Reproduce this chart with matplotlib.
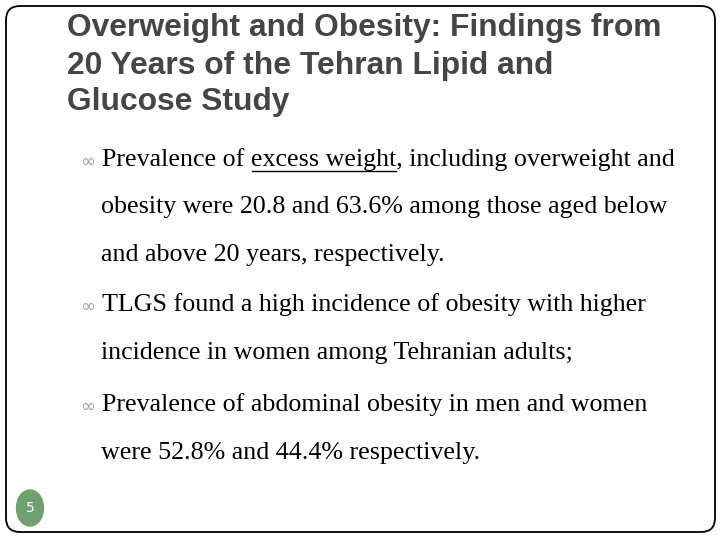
import matplotlib
matplotlib.use('Agg')
import matplotlib.pyplot as plt
from matplotlib.patches import FancyBboxPatch, Ellipse

title_lines = ["Overweight and Obesity: Findings from",
               "20 Years of the Tehran Lipid and",
               "Glucose Study"]
title_y = [28, 66, 102]

# (text, y, has_bullet)
body_lines = [
    ("Prevalence of excess weight, including overweight and", 160, True),
    ("obesity were 20.8 and 63.6% among those aged below", 207, False),
    ("and above 20 years, respectively.", 255, False),
    ("TLGS found a high incidence of obesity with higher", 305, True),
    ("incidence in women among Tehranian adults;", 353, False),
    ("Prevalence of abdominal obesity in men and women", 405, True),
    ("were 52.8% and 44.4% respectively.", 453, False),
]
page_number = "5"

BODY = 18.7

fig = plt.figure(figsize=(7.2, 5.4), dpi=100)
ax = fig.add_axes([0, 0, 1, 1])
ax.set_xlim(0, 720)
ax.set_ylim(540, 0)
ax.axis('off')

ax.add_patch(FancyBboxPatch((6, 6), 709, 526, boxstyle="round,pad=0,rounding_size=14",
                            fill=False, lw=1.3, ec='black'))

for t, y in zip(title_lines, title_y):
    ax.text(67, y, t, fontsize=22.9, family='Liberation Sans', weight='bold',
            color='#454545', va='center', ha='left')

fig.canvas.draw()
renderer = fig.canvas.get_renderer()
for t, y, bullet in body_lines:
    if bullet:
        ax.text(80, y + 2, "\u221e", fontsize=13, color='#9aaa98', va='center', ha='left')
        x0 = 102
    else:
        x0 = 101
    ax.text(x0, y, t, fontsize=BODY, family='Liberation Serif', color='black',
            va='center', ha='left')
    if "excess weight" in t:
        pre = t.split("excess weight")[0]
        tmp1 = ax.text(x0, y, pre, fontsize=BODY, family='Liberation Serif', va='center')
        tmp2 = ax.text(x0, y, pre + "excess weight", fontsize=BODY, family='Liberation Serif', va='center')
        inv = ax.transData.inverted()
        b1 = inv.transform(tmp1.get_window_extent(renderer).get_points())
        b2 = inv.transform(tmp2.get_window_extent(renderer).get_points())
        tmp1.remove(); tmp2.remove()
        ax.plot([b1[1][0] + 1, b2[1][0]], [y + 11, y + 11], color='black', lw=1)

ax.add_patch(Ellipse((30, 508), 27, 36, color='#6fa16f'))
ax.text(30, 508, page_number, fontsize=10, family='DejaVu Sans', color='white',
        ha='center', va='center')

fig.savefig('out.png', dpi=100)
